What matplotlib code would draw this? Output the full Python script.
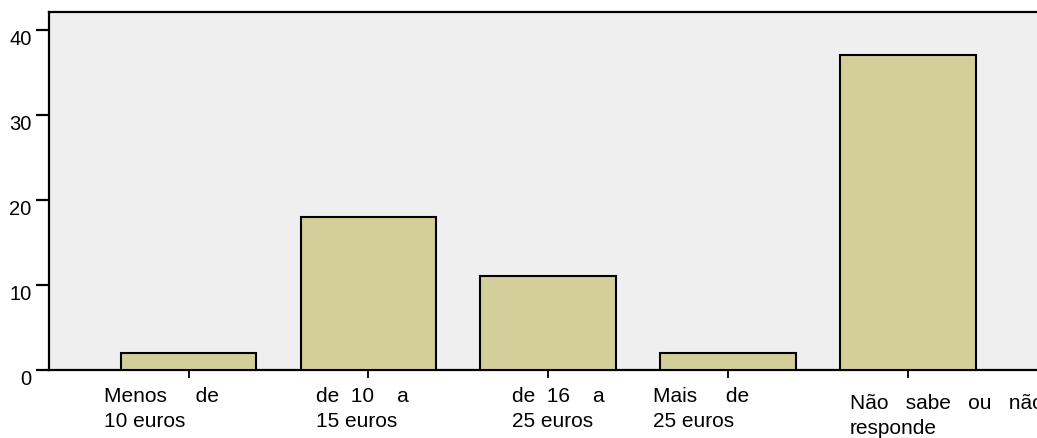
import matplotlib.pyplot as plt
from matplotlib.transforms import ScaledTranslation, blended_transform_factory

# price brackets and respondent counts
categories = ['Menos     de\n10 euros', 'de  10    a\n15 euros', 'de  16    a\n25 euros',
              'Mais     de\n25 euros', 'Não   sabe   ou   não\nresponde']
counts = [2, 18, 11, 2, 37]
y_ticks = [0, 10, 20, 30, 40]

# label placement (pixels left of each tick, extra drop)
label_dx = [85, 52, 36, 75, 58]
label_dy = [0, 0, 0, 0, 7]

plt.rcParams['font.family'] = ['Liberation Sans', 'DejaVu Sans']
fig = plt.figure(figsize=(10.37, 4.39), dpi=100)
ax = fig.add_axes([49 / 1037, 68 / 439, 1 - 49 / 1037, 358 / 439])
ax.set_facecolor('#efefef')

x = list(range(len(counts)))
ax.bar(x, counts, width=0.754, color='#d3ce9a', edgecolor='black', linewidth=1.5, zorder=3)

ax.set_xlim(-0.776, 4.719)
ax.set_ylim(0, 42.1)

for side in ['left', 'top', 'bottom']:
    ax.spines[side].set_linewidth(1.6)
ax.spines['right'].set_visible(False)

ax.set_yticks(y_ticks)
ax.tick_params(axis='y', length=9.5, width=1.6, labelsize=14.5, pad=3)
for lbl in ax.get_yticklabels():
    lbl.set_transform(lbl.get_transform() + ScaledTranslation(0, -7 / 100, fig.dpi_scale_trans))

ax.set_xticks(x)
ax.set_xticklabels([])
ax.tick_params(axis='x', length=6, width=1.3)

trans = blended_transform_factory(ax.transData, ax.transAxes)
for i, text in enumerate(categories):
    off = ScaledTranslation(-label_dx[i] / 100, -(16 + label_dy[i]) / 100, fig.dpi_scale_trans)
    ax.text(x[i], 0, text, transform=trans + off, ha='left', va='top',
            fontsize=15, linespacing=1.4, clip_on=False)

fig.savefig('out.png', dpi=100)
